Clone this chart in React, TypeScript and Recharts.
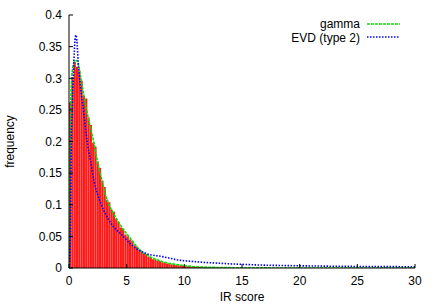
import { ComposedChart, Bar, Line, XAxis, YAxis, Legend } from 'recharts';

// histogram bins (width 0.2) and frequencies
const binCenters = [
  0.1, 0.3, 0.5, 0.7, 0.9, 1.1, 1.3, 1.5, 1.7, 1.9,
  2.1, 2.3, 2.5, 2.7, 2.9, 3.1, 3.3, 3.5, 3.7, 3.9,
  4.1, 4.3, 4.5, 4.7, 4.9, 5.1, 5.3, 5.5, 5.7, 5.9,
  6.1, 6.3, 6.5, 6.7, 6.9, 7.1, 7.3, 7.5, 7.7, 7.9,
  8.1, 8.3, 8.5, 8.7, 8.9, 9.1, 9.3, 9.5, 9.7, 9.9,
  10.1, 10.3, 10.5, 10.7, 10.9, 11.1, 11.3, 11.5, 11.7, 11.9,
  12.1, 12.3, 12.5, 12.7, 12.9, 13.1, 13.3, 13.5, 13.7, 13.9,
];
const binFreq = [
  0.262, 0.302, 0.326, 0.318, 0.312, 0.296, 0.272, 0.268, 0.238, 0.226,
  0.198, 0.192, 0.168, 0.158, 0.138, 0.128, 0.108, 0.104, 0.092, 0.089,
  0.078, 0.073, 0.064, 0.062, 0.053, 0.05, 0.045, 0.043, 0.036, 0.034,
  0.029, 0.027, 0.023, 0.022, 0.018, 0.017, 0.014, 0.0135, 0.0115, 0.011,
  0.009, 0.0088, 0.0072, 0.0068, 0.0058, 0.0055, 0.0047, 0.0045, 0.0038, 0.0036,
  0.003, 0.0028, 0.0024, 0.0022, 0.0019, 0.0018, 0.0015, 0.0014, 0.0012, 0.0011,
  0.0009, 0.0009, 0.0007, 0.0007, 0.0006, 0.0005, 0.0005, 0.0004, 0.0004, 0.0003,
];

// fitted gamma curve
const gammaX = [0, 0.03, 0.06, 0.09, 0.15, 0.2, 0.34, 0.5, 0.65, 0.85, 1.0, 1.3, 1.7, 2.15, 2.45, 2.85, 3.3, 3.9, 4.6, 5.4, 6.1, 7.0, 8.1, 9.5, 11, 13, 15, 20, 30];
const gammaY = [0, 0.12, 0.18, 0.21, 0.252, 0.29, 0.318, 0.327, 0.328, 0.318, 0.303, 0.272, 0.234, 0.199, 0.17, 0.139, 0.108, 0.085, 0.064, 0.045, 0.029, 0.018, 0.01, 0.005, 0.002, 0.0008, 0.0003, 0.00005, 0];

// fitted EVD (type 2) curve
const evdX = [0, 0.1, 0.15, 0.2, 0.28, 0.34, 0.43, 0.52, 0.6, 0.68, 0.8, 1.0, 1.29, 1.58, 1.86, 2.15, 2.72, 3.29, 3.87, 4.59, 5.45, 6.68, 8.1, 9.5, 11, 13, 15.8, 21.6, 30];
const evdY = [0, 0.03, 0.12, 0.2, 0.25, 0.285, 0.33, 0.36, 0.368, 0.36, 0.325, 0.285, 0.244, 0.199, 0.17, 0.139, 0.104, 0.081, 0.065, 0.052, 0.036, 0.023, 0.018, 0.0126, 0.0099, 0.0075, 0.0052, 0.0031, 0.002];

const xTicks = [0, 5, 10, 15, 20, 25, 30];
const yTicks = [0, 0.05, 0.1, 0.15, 0.2, 0.25, 0.3, 0.35, 0.4];

const histData = binCenters.map((x, i) => ({ x, freq: binFreq[i] }));
const gammaData = gammaX.map((x, i) => ({ x, y: gammaY[i] }));
const evdData = evdX.map((x, i) => ({ x, y: evdY[i] }));

const FONT = '"Liberation Sans", Arial, sans-serif';
const tick = { fill: '#000', fontSize: 12, fontFamily: FONT };
const blank = () => '';

// gnuplot-style key, top right inside the frame
const KeyBox = () => (
  <svg width={436} height={50} style={{ display: 'block' }}>
    <text x={360} y={27.5} textAnchor="end" fontSize={12} fontFamily={FONT} fill="#000">gamma</text>
    <line x1={367} x2={400} y1={24} y2={24} stroke="#00e000" strokeWidth={1.6} strokeDasharray="3 1" />
    <text x={360} y={41.5} textAnchor="end" fontSize={12} fontFamily={FONT} fill="#000">EVD (type 2)</text>
    <line x1={367} x2={400} y1={37} y2={37} stroke="#0000ff" strokeWidth={1.6} strokeDasharray="1.5 1.5" />
  </svg>
);

export default function App() {
  return (
    <div style={{ position: 'absolute', left: 0, top: 0, fontFamily: FONT }}>
      <ComposedChart width={436} height={305} data={histData} margin={{ top: 15, right: 21, bottom: 0, left: 0 }}>
        <XAxis
          dataKey="x"
          type="number"
          domain={[0, 30]}
          ticks={xTicks}
          allowDataOverflow
          height={37}
          tick={tick}
          tickSize={-4}
          tickMargin={12}
          stroke="#000"
          label={{ value: 'IR score', position: 'insideBottom', offset: 4, fill: '#000', fontSize: 12, fontFamily: FONT }}
        />
        <XAxis xAxisId="top" orientation="top" type="number" domain={[0, 30]} ticks={xTicks} allowDataOverflow height={0} tickSize={-4} tickFormatter={blank} stroke="#000" />
        <XAxis xAxisId="c" dataKey="x" type="number" domain={[0, 30]} allowDataOverflow hide />
        <YAxis
          type="number"
          domain={[0, 0.4]}
          ticks={yTicks}
          allowDataOverflow
          width={69}
          tick={tick}
          tickSize={-4}
          tickMargin={11}
          stroke="#000"
          label={{ value: 'frequency', angle: -90, position: 'insideLeft', offset: 10, fill: '#000', fontSize: 12, fontFamily: FONT, style: { textAnchor: 'middle' } }}
        />
        <YAxis yAxisId="r" orientation="right" type="number" domain={[0, 0.4]} ticks={yTicks} allowDataOverflow width={0} tickSize={-4} tickFormatter={blank} stroke="#000" />
        <Legend layout="horizontal" verticalAlign="middle" align="center" content={() => <KeyBox />} wrapperStyle={{ position: 'absolute', left: 0, top: 0, width: 436, height: 50 }} />
        <Bar dataKey="freq" fill="#ff1a1a" barSize={2.2} isAnimationActive={false} />
        <Line xAxisId="c" data={gammaData} dataKey="y" type="monotone" stroke="#00e000" strokeWidth={1.6} strokeDasharray="3 1" dot={false} activeDot={false} isAnimationActive={false} />
        <Line xAxisId="c" data={evdData} dataKey="y" type="monotone" stroke="#0000ff" strokeWidth={1.6} strokeDasharray="1.5 1.5" dot={false} activeDot={false} isAnimationActive={false} />
      </ComposedChart>
    </div>
  );
}
